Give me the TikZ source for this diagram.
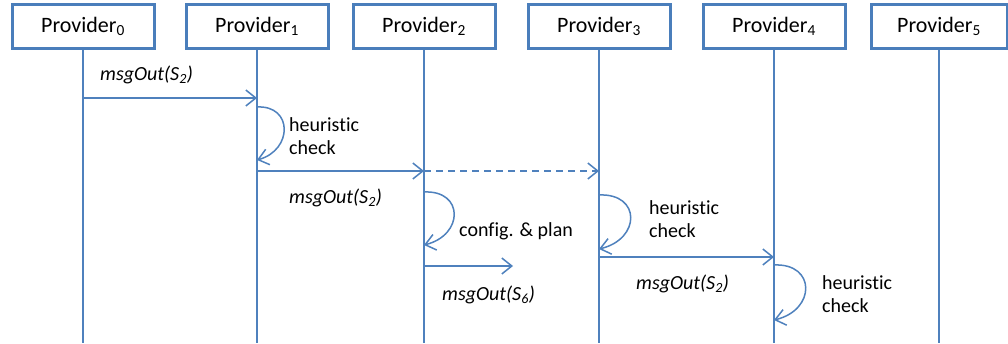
\documentclass[tikz,border=0pt]{standalone}
\usepackage{fontspec}
\setmainfont{Carlito}[Ligatures=NoCommon]
\usetikzlibrary{arrows.meta}
\definecolor{lineblue}{HTML}{4F81BD}
\definecolor{boxblue}{HTML}{4A7EBB}

\begin{document}
\begin{tikzpicture}[x=1pt,y=-1pt,
  provider/.style={draw=boxblue,line width=3pt,fill=white,minimum width=142pt,
    minimum height=44pt,inner sep=0pt,font=\fontsize{22}{26}\selectfont},
  lifeline/.style={draw=lineblue,line width=2.5pt},
  msg/.style={draw=lineblue,line width=1.5pt,-{Straight Barb[length=10pt,width=16pt]}},
  selfloop/.style={msg},
  lbl/.style={anchor=west,inner sep=0pt,align=left,font=\fontsize{20}{23}\selectfont},
  call/.style={lbl,font=\fontsize{20}{23}\selectfont\itshape}]
\useasboundingbox (0,0) rectangle (1008,343);
\coordinate (bottom) at (0,343);

% participants
\node[provider] (p0) at (83,26.5)  {Provider\textsubscript{0}};
\node[provider] (p1) at (257,26.5) {Provider\textsubscript{1}};
\node[provider] (p2) at (424,26.5) {Provider\textsubscript{2}};
\node[provider] (p3) at (599,26.5) {Provider\textsubscript{3}};
\node[provider] (p4) at (774,26.5) {Provider\textsubscript{4}};
\node[provider,minimum width=136pt] (p5) at (939,26.5) {Provider\textsubscript{5}};

% lifelines
\foreach \p in {p0,p1,p2,p3,p4,p5}
  \draw[lifeline] (\p.south) -- (\p.south |- bottom);

% points on the lifelines
\coordinate (m1a) at (83,98);   \coordinate (m1b) at (257,98);
\coordinate (h1a) at (257,107); \coordinate (h1b) at (257,160);
\coordinate (m2a) at (257,171); \coordinate (m2b) at (424,171);
\coordinate (m2c) at (599,171);
\coordinate (h2a) at (424,192); \coordinate (h2b) at (424,245);
\coordinate (m3a) at (424,266); \coordinate (m3b) at (513,266);
\coordinate (h3a) at (599,195); \coordinate (h3b) at (599,249);
\coordinate (m4a) at (599,257); \coordinate (m4b) at (774,257);
\coordinate (h4a) at (774,265); \coordinate (h4b) at (774,320);

% messages
\draw[msg] (m1a) -- (m1b);
\draw[msg] (m2a) -- (m2b);
\draw[msg,dash pattern=on 7pt off 5pt] (m2b) -- (m2c);
\draw[msg] (m3a) -- (m3b);
\draw[msg] (m4a) -- (m4b);

% local steps
\draw[selfloop] (h1a) .. controls +(36,-2) and +(36,-10) .. (h1b);
\draw[selfloop] (h2a) .. controls +(40,-2) and +(40,-10) .. (h2b);
\draw[selfloop] (h3a) .. controls +(42,-2) and +(42,-10) .. (h3b);
\draw[selfloop] (h4a) .. controls +(42,-2) and +(42,-10) .. (h4b);

% labels
\node[call] (l1) at (100,75)  {msgOut(S\textsubscript{2})};
\node[lbl]  (l2) at (289,136.5) {heuristic\\check};
\node[call] (l3) at (289,198) {msgOut(S\textsubscript{2})};
\node[lbl]  (l4) at (459,231) {config. \& plan};
\node[call] (l5) at (442,295) {msgOut(S\textsubscript{6})};
\node[lbl]  (l6) at (649,219) {heuristic\\check};
\node[call] (l7) at (636,284) {msgOut(S\textsubscript{2})};
\node[lbl]  (l8) at (822,294.5) {heuristic\\check};
\end{tikzpicture}
\end{document}
